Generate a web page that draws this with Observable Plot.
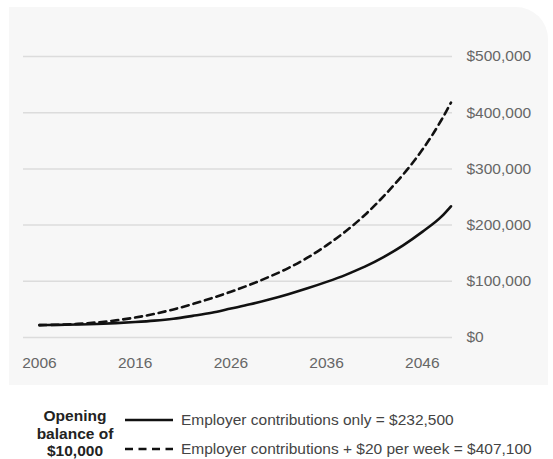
<!DOCTYPE html>
<html>
<head>
<meta charset="utf-8">
<script src="https://cdn.jsdelivr.net/npm/d3@7"></script>
<script src="https://cdn.jsdelivr.net/npm/@observablehq/plot@0.6"></script>
<style>
  html, body { margin: 0; padding: 0; background: #fff; }
  body { width: 553px; height: 459px; position: relative; overflow: hidden; font-family: Arial, "Liberation Sans", Helvetica, sans-serif; }
  #panel { position: absolute; left: 9px; top: 7px; width: 539px; height: 378px; background: #f7f7f7; border-top-right-radius: 32px; }
  #chart { position: absolute; left: 0; top: 0; }
  #legend { position: absolute; left: 0; top: 400px; width: 553px; height: 59px; }
  .lead { position: absolute; left: 20px; top: 7px; width: 110px; text-align: center; font-weight: bold; font-size: 15.5px; line-height: 17.5px; color: #222; }
  .item { position: absolute; left: 125px; height: 18px; display: flex; align-items: center; font-size: 15.5px; color: #444; white-space: nowrap; }
  .item svg { margin-right: 8px; }
</style>
</head>
<body>
<div id="panel"></div>
<div id="chart"></div>
<div id="legend"></div>
<script>
const solidYears = [2006, 2008, 2010, 2012, 2014, 2016, 2018, 2020, 2022, 2024, 2026, 2028, 2030, 2032, 2034, 2036, 2038, 2040, 2042, 2044, 2046, 2048, 2049];
const employerOnly = [22000, 22400, 23000, 24000, 25500, 27500, 30000, 33500, 38500, 44000, 51500, 59000, 67500, 77000, 87500, 99000, 111500, 126000, 143500, 164000, 188000, 215000, 233500];
const dashedYears = [2006, 2008, 2010, 2012, 2014, 2016, 2018, 2020, 2022, 2024, 2026, 2028, 2030, 2032, 2034, 2036, 2038, 2040, 2042, 2044, 2045, 2046, 2047, 2048, 2049];
const employerPlus20 = [22000, 22800, 24300, 26800, 30500, 35500, 42000, 50000, 59500, 70000, 81500, 94000, 108000, 123500, 142000, 164000, 189000, 218000, 252000, 290000, 311000, 334000, 359000, 387000, 418000];
const yTicks = [0, 100000, 200000, 300000, 400000, 500000];
const xTicks = [2006, 2016, 2026, 2036, 2046];
const openingLabel = ["Opening", "balance of", "$10,000"];
const seriesNames = ["Employer contributions only = $232,500", "Employer contributions + $20 per week = $407,100"];

const solidData = solidYears.map((y, i) => ({year: y, value: employerOnly[i]}));
const dashedData = dashedYears.map((y, i) => ({year: y, value: employerPlus20[i]}));

const plot = Plot.plot({
  width: 553,
  height: 385,
  marginLeft: 23,
  marginRight: 101,
  marginTop: 56,
  marginBottom: 48,
  style: {background: "transparent", fontFamily: "Arial, 'Liberation Sans', Helvetica, sans-serif", fontSize: "15.5px", color: "#666"},
  x: {domain: [2004.33, 2049.16], ticks: xTicks, tickFormat: d => String(d), tickSize: 0, tickPadding: 19, label: null},
  y: {domain: [0, 500000], ticks: yTicks, tickFormat: d => "$" + d3.format(",")(d), tickSize: 0, tickPadding: 14, label: null, axis: "right"},
  marks: [
    Plot.ruleY(yTicks, {stroke: "#dcdcdc", strokeWidth: 1.5}),
    Plot.line(solidData, {x: "year", y: "value", stroke: "#111", strokeWidth: 2.6, curve: "monotone-x"}),
    Plot.line(dashedData, {x: "year", y: "value", stroke: "#111", strokeWidth: 2.6, strokeDasharray: "7,5", curve: "monotone-x"})
  ]
});
plot.querySelectorAll("text").forEach(t => t.setAttribute("fill", "#666"));
document.getElementById("chart").appendChild(plot);

const legend = document.getElementById("legend");
legend.innerHTML = `<div class="lead">${openingLabel.join("<br>")}</div>` +
  `<div class="item" style="top:11px"><svg width="48" height="6"><line x1="0" y1="3" x2="48" y2="3" stroke="#111" stroke-width="2.6"/></svg>${seriesNames[0]}</div>` +
  `<div class="item" style="top:40px"><svg width="48" height="6"><line x1="0" y1="3" x2="48" y2="3" stroke="#111" stroke-width="2.6" stroke-dasharray="8,5.5"/></svg>${seriesNames[1]}</div>`;
</script>
</body>
</html>
